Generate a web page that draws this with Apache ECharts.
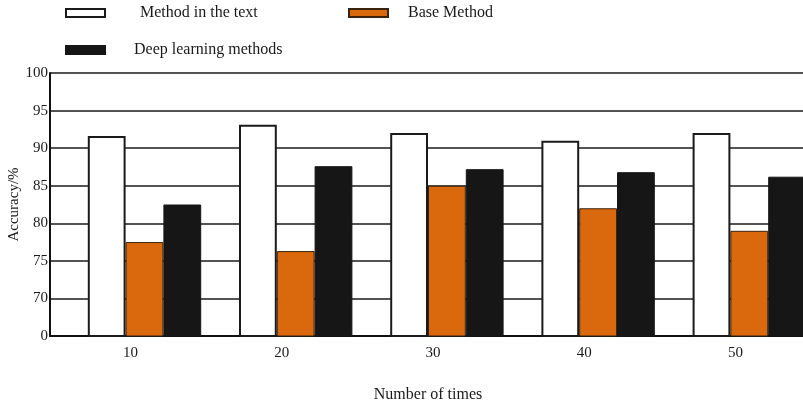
<!DOCTYPE html>
<html>
<head>
<meta charset="utf-8">
<script src="https://cdn.jsdelivr.net/npm/echarts@6/dist/echarts.min.js"></script>
<style>html,body{margin:0;padding:0;background:#fff;}#c{width:803px;height:408px;}</style>
</head>
<body>
<div id="c"></div>
<script>
const categories = ['10', '20', '30', '40', '50'];
const methodText = [91.6, 93.1, 92.0, 91.0, 92.0];
const baseMethod = [77.5, 76.3, 85.0, 82.0, 79.0];
const deepLearning = [82.5, 87.6, 87.2, 86.8, 86.2];
const placeholder = [null, null, null, null, null];
const yTicks = [65, 70, 75, 80, 85, 90, 95, 100];

const FONT = 'Liberation Serif';
const chart = echarts.init(document.getElementById('c'));
chart.setOption({
  animation: false,
  backgroundColor: '#fff',
  textStyle: { fontFamily: FONT, color: '#222' },
  legend: [
    { data: ['Method in the text'], left: 65, top: 5, padding: 0, itemWidth: 39, itemHeight: 8, icon: 'rect',
      textStyle: { fontFamily: FONT, fontSize: 16, color: '#1a1a1a', padding: [0, 0, 0, 30] } },
    { data: ['Base Method'], left: 348, top: 5, padding: 0, itemWidth: 39, itemHeight: 8, icon: 'rect',
      textStyle: { fontFamily: FONT, fontSize: 16, color: '#1a1a1a', padding: [0, 0, 0, 15] } },
    { data: ['Deep learning methods'], left: 65, top: 42, padding: 0, itemWidth: 39, itemHeight: 8, icon: 'rect',
      textStyle: { fontFamily: FONT, fontSize: 16, color: '#1a1a1a', padding: [0, 0, 0, 24] } }
  ],
  grid: { left: 50, top: 73, width: 756, height: 263, containLabel: false, outerBoundsMode: 'none' },
  xAxis: {
    type: 'category',
    data: categories,
    name: 'Number of times',
    nameLocation: 'middle',
    nameGap: 51,
    nameMoveOverlap: false,
    nameTextStyle: { fontFamily: FONT, fontSize: 16, color: '#1a1a1a' },
    axisLine: { lineStyle: { color: '#111', width: 2 } },
    axisTick: { show: false },
    axisLabel: { fontFamily: FONT, fontSize: 15, color: '#1a1a1a', margin: 10, padding: [0, 0, 0, 10] }
  },
  yAxis: {
    type: 'value',
    min: 65, max: 100, interval: 5,
    name: 'Accuracy/%',
    nameLocation: 'middle',
    nameGap: 28,
    nameMoveOverlap: false,
    nameTextStyle: { fontFamily: FONT, fontSize: 15, color: '#1a1a1a' },
    axisLine: { show: true, lineStyle: { color: '#111', width: 2 } },
    axisTick: { show: false },
    axisLabel: { fontFamily: FONT, fontSize: 15, color: '#1a1a1a', margin: 2,
      formatter: v => (v === yTicks[0] ? '0' : String(v)) },
    splitLine: { show: true, lineStyle: { color: '#1a1a1a', width: 1.5 } }
  },
  series: [
    { name: 'pad', type: 'bar', data: placeholder, barGap: '0%', barCategoryGap: '0%', silent: true },
    { name: 'Method in the text', type: 'bar', data: methodText, barGap: '0%', barCategoryGap: '0%',
      itemStyle: { color: '#ffffff', borderColor: '#1a1a1a', borderWidth: 2 } },
    { name: 'Base Method', type: 'bar', data: baseMethod, barGap: '0%', barCategoryGap: '0%',
      itemStyle: { color: '#D9690C', borderColor: '#3a2410', borderWidth: 1 } },
    { name: 'Deep learning methods', type: 'bar', data: deepLearning, barGap: '0%', barCategoryGap: '0%',
      itemStyle: { color: '#161616', borderColor: '#161616', borderWidth: 1 } }
  ]
});
</script>
</body>
</html>
